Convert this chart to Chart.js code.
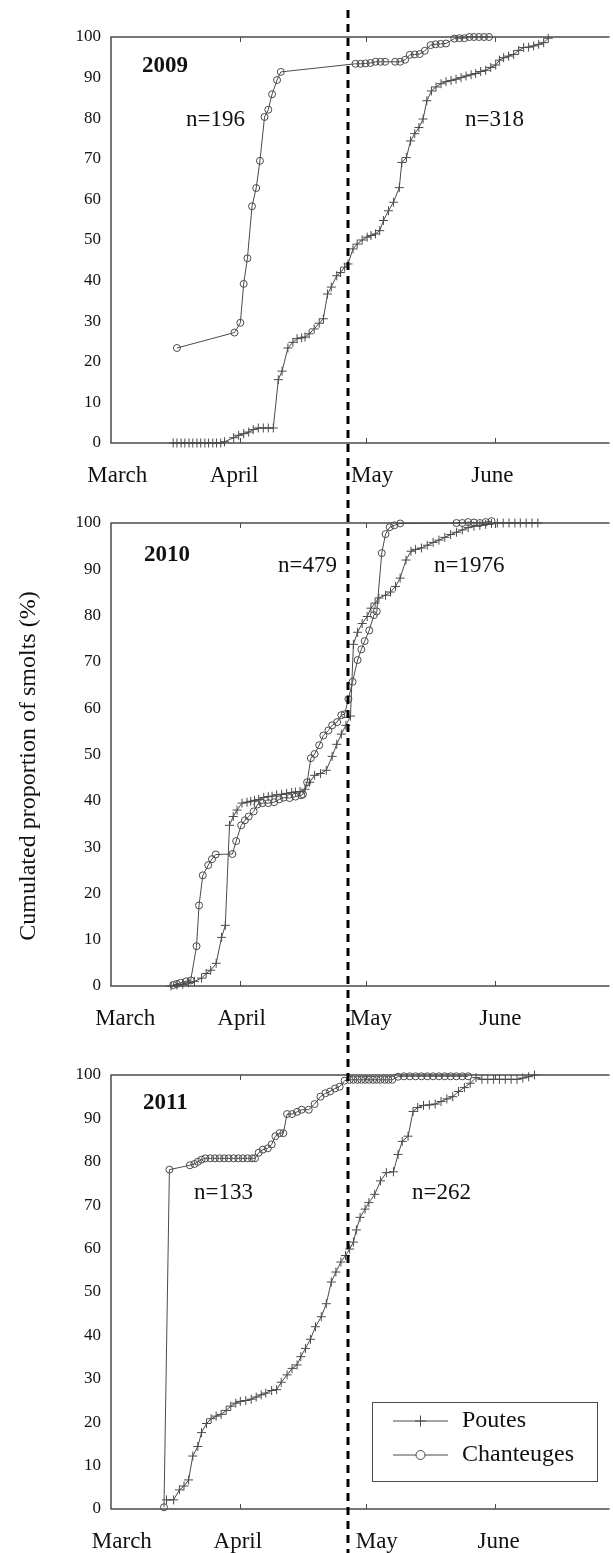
<!DOCTYPE html>
<html>
<head>
<meta charset="utf-8">
<script src="https://cdn.jsdelivr.net/npm/chart.js@4.4.0/dist/chart.umd.min.js"></script>
<style>
  html, body { margin: 0; padding: 0; background: #fff; overflow: hidden; }
  canvas { position: absolute; left: 0; }
</style>
</head>
<body>
<canvas id="c2009" width="613" height="500" style="top:0px"></canvas>
<canvas id="c2010" width="613" height="545" style="top:500px"></canvas>
<canvas id="c2011" width="613" height="508" style="top:1045px"></canvas>
<script>
// x = days since 1 March, y = cumulated % of smolts
const monthLabels = ['March', 'April', 'May', 'June'];
const monthStartDays = [31, 61, 92];
const labelDays2009 = [1.5, 29.5, 62.6, 91.4];
const labelDays2010 = [3.4, 31.3, 62.3, 93.3];
const labelDays2011 = [2.6, 30.4, 63.7, 92.9];
const mayLineDay = 56.8;
const years = ['2009', '2010', '2011'];
const nChanteuges = [196, 479, 133];
const nPoutes = [318, 1976, 262];
const seriesNames = ['Poutes', 'Chanteuges'];

const poutes2009 = [
  [14.9,0],[15.8,0],[16.8,0],[17.7,0],[18.7,0],[19.6,0],[20.6,0],[21.5,0],[22.5,0],[23.4,0],[24.4,0],[25.3,0],[26.3,0],[27.2,0.3],
  [29.4,1.3],[30.6,1.9],[31.8,2.3],[33.0,2.7],[34.1,3.3],[35.3,3.7],[36.5,3.7],[37.7,3.7],[38.9,3.7],
  [40.1,15.6],[41.0,17.7],[42.4,23.4],[43.6,24.8],[44.6,25.7],[45.7,25.9],[46.5,26.1],[47.5,26.9],[48.7,28.1],[49.9,29.5],
  [50.9,30.6],[51.9,36.7],[52.8,38.4],[54.1,41.2],[55.0,42.0],[56.0,43.3],[56.8,44.1],
  [58.0,47.8],[59.0,49.0],[60.2,50.0],[61.4,50.7],[62.3,51.1],[63.4,51.5],[64.4,52.3],[65.3,54.8],[66.5,57.2],[67.7,59.3],
  [69.1,62.9],[69.7,69.1],[70.8,70.3],[71.8,74.4],[72.8,76.2],[73.8,77.7],[74.8,79.8],[75.7,84.3],[76.8,86.7],[77.9,87.7],
  [79.1,88.5],[80.3,89.0],[81.5,89.3],[82.7,89.6],[83.9,90.0],[85.1,90.4],[86.3,90.7],[87.4,91.0],[88.6,91.5],[89.8,91.8],
  [91.0,92.5],[92.2,93.1],[93.1,94.3],[94.1,94.9],[95.3,95.3],[96.5,95.7],[97.7,96.7],[98.9,97.4],[100.1,97.5],[101.3,97.8],
  [102.5,98.2],[103.7,98.6],[104.8,99.7]
];
const chant2009 = [
  [15.8,23.4],[29.6,27.2],[31.0,29.6],[31.8,39.2],[32.7,45.5],[33.8,58.3],[34.8,62.8],[35.7,69.5],[36.8,80.3],[37.7,82.1],
  [38.6,85.9],[39.8,89.4],[40.7,91.4],[58.6,93.4],[59.8,93.4],[61.0,93.5],[62.2,93.6],[63.4,93.9],[64.6,93.9],[65.7,93.9],
  [68.1,93.9],[69.3,93.9],[70.5,94.4],[71.6,95.6],[72.8,95.7],[74.0,95.8],[75.2,96.6],[76.6,98.0],[77.8,98.2],[79.0,98.3],
  [80.3,98.4],[82.3,99.6],[83.5,99.7],[84.7,99.7],[85.9,100],[87.0,100],[88.2,100],[89.4,100],[90.6,100]
];
const poutes2010 = [
  [14.4,0],[15.8,0.2],[17.2,0.4],[18.6,0.7],[20.0,1.0],[21.7,1.7],[22.8,2.7],[23.9,3.4],[25.2,4.9],[26.5,10.5],[27.4,13.1],
  [28.4,34.7],[29.3,36.6],[30.2,38.0],[31.4,39.5],[32.6,39.7],[33.5,39.9],[34.4,40.1],[35.4,40.3],[36.6,40.7],[37.7,40.9],
  [38.6,41.0],[39.7,41.3],[40.9,41.4],[42.1,41.6],[43.3,41.8],[44.2,41.9],[45.3,42.0],[46.5,42.5],[47.6,44.0],[48.8,45.5],
  [50.2,45.9],[51.6,46.6],[53.0,49.6],[54.1,52.2],[55.2,54.4],[56.3,56.3],[57.4,58.3],[58.1,73.8],[59.1,76.4],[60.2,78.3],
  [61.4,79.8],[62.3,81.6],[63.3,82.7],[64.2,83.8],[65.8,84.4],[67.0,85.1],[68.2,86.3],[69.3,88.1],[70.7,92.0],[71.9,93.9],
  [73.0,94.3],[74.4,94.6],[75.8,95.2],[77.2,95.8],[78.6,96.3],[80.0,96.9],[81.4,97.5],[82.8,98.0],[84.2,98.5],[85.6,99.0],
  [87.0,99.3],[88.4,99.5],[89.8,99.7],[91.2,99.9],[92.6,100],[94.0,100],[95.4,100],[96.8,100],[98.1,100],[99.5,100],
  [100.9,100],[102.3,100]
];
const chant2010 = [
  [14.9,0.2],[15.8,0.45],[16.7,0.7],[18.0,1.0],[19.1,1.2],[20.5,8.6],[21.1,17.4],[22.0,23.9],[23.3,26.1],[24.2,27.4],[25.1,28.4],
  [29.1,28.5],[30.0,31.3],[31.2,34.7],[32.1,35.8],[33.0,36.6],[34.2,37.7],[35.1,39.2],[36.3,39.5],[37.7,39.5],[39.1,39.7],
  [40.3,40.3],[41.4,40.7],[42.8,40.6],[44.2,40.9],[45.6,41.2],[46.0,41.4],[47.0,44.0],[47.9,49.2],[48.8,50.1],[49.9,52.0],
  [50.9,54.1],[52.1,55.2],[53.0,56.3],[54.2,57.0],[55.2,58.5],[56.0,58.7],[56.9,62.0],[57.9,65.7],[59.1,70.4],[60.0,72.7],
  [60.8,74.5],[61.9,76.8],[63.0,80.1],[63.7,80.9],[64.9,93.5],[65.8,97.6],[66.8,99.1],[67.9,99.5],[69.3,99.9],
  [82.8,100],[84.2,100],[85.6,100.2],[87.0,100.1],[88.4,100],[89.8,100.2],[91.2,100.4]
];
const poutes2011 = [
  [13.3,2.1],[15.0,2.1],[16.4,4.4],[17.5,5.3],[18.6,6.7],[19.6,12.2],[20.8,14.4],[21.7,17.6],[22.9,19.7],[24.0,20.8],
  [25.2,21.4],[26.4,21.8],[27.6,22.7],[28.7,23.7],[29.9,24.4],[31.0,24.8],[32.3,25.0],[33.6,25.3],[34.8,25.8],[36.0,26.3],
  [37.1,26.7],[38.5,27.3],[39.7,27.5],[40.8,29.2],[42.2,30.9],[43.4,32.4],[44.6,33.2],[45.5,35.1],[46.6,37.0],[47.8,39.1],
  [49.0,42.0],[50.4,44.3],[51.6,47.3],[52.8,52.3],[53.9,54.6],[55.1,56.9],[56.2,58.4],[57.2,59.9],[58.1,61.5],[58.8,64.3],
  [59.7,67.2],[60.9,69.1],[61.8,70.6],[63.2,72.5],[64.6,75.6],[66.0,77.5],[67.7,77.7],[68.8,81.7],[69.8,84.7],[71.2,85.9],
  [72.4,91.6],[73.5,92.5],[74.9,93.0],[76.3,93.1],[77.7,93.3],[79.1,93.9],[80.5,94.5],[81.9,95.0],[83.3,96.2],[84.7,97.1],
  [86.1,98.1],[87.5,99.4],[88.9,99.0],[90.3,99.0],[91.7,99.0],[93.1,99.0],[94.5,99.0],[95.9,99.0],[97.3,99.0],[98.7,99.3],
  [100.1,99.6],[101.5,100]
];
const chant2011 = [
  [12.7,0.4],[14.0,78.2],[18.9,79.2],[20.0,79.5],[20.8,80.0],[21.7,80.5],[22.6,80.8],[23.8,80.8],[24.9,80.8],[26.0,80.8],
  [27.1,80.8],[28.2,80.8],[29.4,80.8],[30.5,80.8],[31.6,80.8],[32.7,80.8],[33.8,80.8],[34.5,80.8],[35.4,82.1],[36.4,82.8],
  [37.6,83.1],[38.5,84.0],[39.4,85.9],[40.4,86.6],[41.3,86.6],[42.2,91.0],[43.4,91.0],[44.6,91.5],[45.7,92.0],[47.4,92.0],
  [48.8,93.3],[50.2,95.0],[51.4,95.8],[52.5,96.2],[53.7,96.9],[54.8,97.3],[56.0,98.7],[57.2,98.9],[58.1,98.9],[59.1,98.9],
  [60.0,98.9],[60.9,98.9],[61.8,98.9],[62.8,98.9],[63.7,98.9],[64.6,98.9],[65.6,98.9],[66.5,98.9],[67.4,98.9],[68.8,99.6],
  [70.2,99.7],[71.6,99.7],[73.0,99.7],[74.4,99.7],[75.8,99.7],[77.2,99.7],[78.6,99.7],[80.0,99.7],[81.4,99.7],[82.8,99.7],
  [84.2,99.7],[85.6,99.7]
];

const ink = '#4a4a4a';
const serif = '"Liberation Serif", "Times New Roman", serif';

function panel(id, poutes, chant, labelDays, cfg) {
  const guides = {
    id: 'guides',
    beforeDatasetsDraw(chart) {
      const { ctx, chartArea: a, scales: { x } } = chart;
      ctx.save();
      ctx.strokeStyle = ink;
      ctx.lineWidth = 1.5;
      ctx.beginPath();
      ctx.moveTo(a.right + 2, a.top);
      ctx.lineTo(a.left, a.top);
      ctx.lineTo(a.left, a.bottom);
      ctx.lineTo(a.right + 2, a.bottom);
      ctx.stroke();
      ctx.lineWidth = 1;
      monthStartDays.forEach(d => {
        const px = Math.round(x.getPixelForValue(d)) + 0.5;
        ctx.beginPath();
        ctx.moveTo(px, a.bottom); ctx.lineTo(px, a.bottom - 5);
        ctx.moveTo(px, a.top); ctx.lineTo(px, a.top + 5);
        ctx.stroke();
      });
      ctx.restore();
    },
    afterDatasetsDraw(chart) {
      const { ctx, scales: { x } } = chart;
      ctx.save();
      const px = x.getPixelForValue(mayLineDay);
      ctx.strokeStyle = '#000';
      ctx.lineWidth = 3;
      ctx.setLineDash([8, 6]);
      ctx.beginPath();
      ctx.moveTo(px, cfg.dashTop);
      ctx.lineTo(px, chart.height);
      ctx.stroke();
      ctx.setLineDash([]);
      ctx.fillStyle = '#111';
      ctx.textAlign = 'left';
      ctx.textBaseline = 'middle';
      cfg.texts.forEach(t => {
        ctx.font = t.font;
        ctx.fillText(t.text, t.x, t.y);
      });
      if (cfg.yTitle) {
        ctx.save();
        ctx.translate(cfg.yTitle.x, cfg.yTitle.y);
        ctx.rotate(-Math.PI / 2);
        ctx.textAlign = 'center';
        ctx.font = '24px ' + serif;
        ctx.fillText(cfg.yTitle.text, 0, 0);
        ctx.restore();
      }
      if (cfg.legend) {
        const L = cfg.legend;
        ctx.strokeStyle = ink;
        ctx.lineWidth = 1;
        ctx.strokeRect(L.x + 0.5, L.y + 0.5, L.w, L.h);
        chart.data.datasets.forEach((ds, i) => {
          const yy = L.rows[i];
          ctx.strokeStyle = ink;
          ctx.lineWidth = 1;
          ctx.beginPath();
          ctx.moveTo(L.lineX0, yy); ctx.lineTo(L.lineX1, yy);
          ctx.stroke();
          ctx.fillStyle = '#fff';
          Chart.helpers.drawPoint(ctx, { pointStyle: ds.pointStyle, radius: ds.pointRadius + 1, borderWidth: 1, rotation: 0 },
            (L.lineX0 + L.lineX1) / 2, yy);
          ctx.fillStyle = '#111';
          ctx.font = '24px ' + serif;
          ctx.fillText(ds.label, L.textX, yy);
        });
      }
      ctx.restore();
    }
  };

  return new Chart(document.getElementById(id), {
    type: 'scatter',
    data: {
      datasets: [
        { label: seriesNames[0], data: poutes.map(p => ({ x: p[0], y: p[1] })), showLine: true,
          borderColor: ink, borderWidth: 1, pointStyle: 'cross', pointRadius: 4.5, pointBorderColor: ink,
          pointBorderWidth: 1, backgroundColor: 'rgba(0,0,0,0)', clip: false },
        { label: seriesNames[1], data: chant.map(p => ({ x: p[0], y: p[1] })), showLine: true,
          borderColor: ink, borderWidth: 1, pointStyle: 'circle', pointRadius: 3.5, pointBorderColor: ink,
          pointBorderWidth: 1, pointBackgroundColor: 'rgba(255,255,255,0)', backgroundColor: 'rgba(0,0,0,0)', clip: false }
      ]
    },
    options: {
      responsive: false,
      animation: false,
      layout: { padding: { top: cfg.top, left: 0, right: 0, bottom: 0 } },
      plugins: { legend: { display: false }, tooltip: { enabled: false } },
      scales: {
        x: {
          type: 'linear', min: 0, max: 119,
          grid: { display: false, drawTicks: false },
          border: { display: false },
          afterBuildTicks: s => { s.ticks = labelDays.map(v => ({ value: v })); },
          afterFit: s => { s.height = cfg.axisH; },
          ticks: {
            autoSkip: false, maxRotation: 0, padding: 19, color: '#111',
            font: { family: serif, size: 23 },
            callback: (v, i) => monthLabels[i]
          }
        },
        y: {
          min: 0, max: 100,
          grid: { display: false, drawTicks: false },
          border: { display: false },
          afterFit: s => { s.width = 111; },
          ticks: { stepSize: 10, padding: 10, color: '#111', font: { family: serif, size: 17 } }
        }
      }
    },
    plugins: [guides]
  });
}

panel('c2009', poutes2009, chant2009, labelDays2009, {
  top: 37, axisH: 57, dashTop: 10,
  texts: [
    { text: years[0], x: 142, y: 66, font: 'bold 23px ' + serif },
    { text: 'n=' + nChanteuges[0], x: 186, y: 120, font: '23px ' + serif },
    { text: 'n=' + nPoutes[0], x: 465, y: 120, font: '23px ' + serif }
  ]
});

panel('c2010', poutes2010, chant2010, labelDays2010, {
  top: 23, axisH: 59, dashTop: 0,
  texts: [
    { text: years[1], x: 144, y: 55, font: 'bold 23px ' + serif },
    { text: 'n=' + nChanteuges[1], x: 278, y: 66, font: '23px ' + serif },
    { text: 'n=' + nPoutes[1], x: 434, y: 66, font: '23px ' + serif }
  ],
  yTitle: { text: 'Cumulated proportion of smolts (%)', x: 29, y: 266 }
});

panel('c2011', poutes2011, chant2011, labelDays2011, {
  top: 30, axisH: 44, dashTop: 0,
  texts: [
    { text: years[2], x: 143, y: 58, font: 'bold 23px ' + serif },
    { text: 'n=' + nChanteuges[2], x: 194, y: 148, font: '23px ' + serif },
    { text: 'n=' + nPoutes[2], x: 412, y: 148, font: '23px ' + serif }
  ],
  legend: { x: 372, y: 357, w: 225, h: 79, rows: [376, 410], lineX0: 393, lineX1: 448, textX: 462 }
});
</script>
</body>
</html>
